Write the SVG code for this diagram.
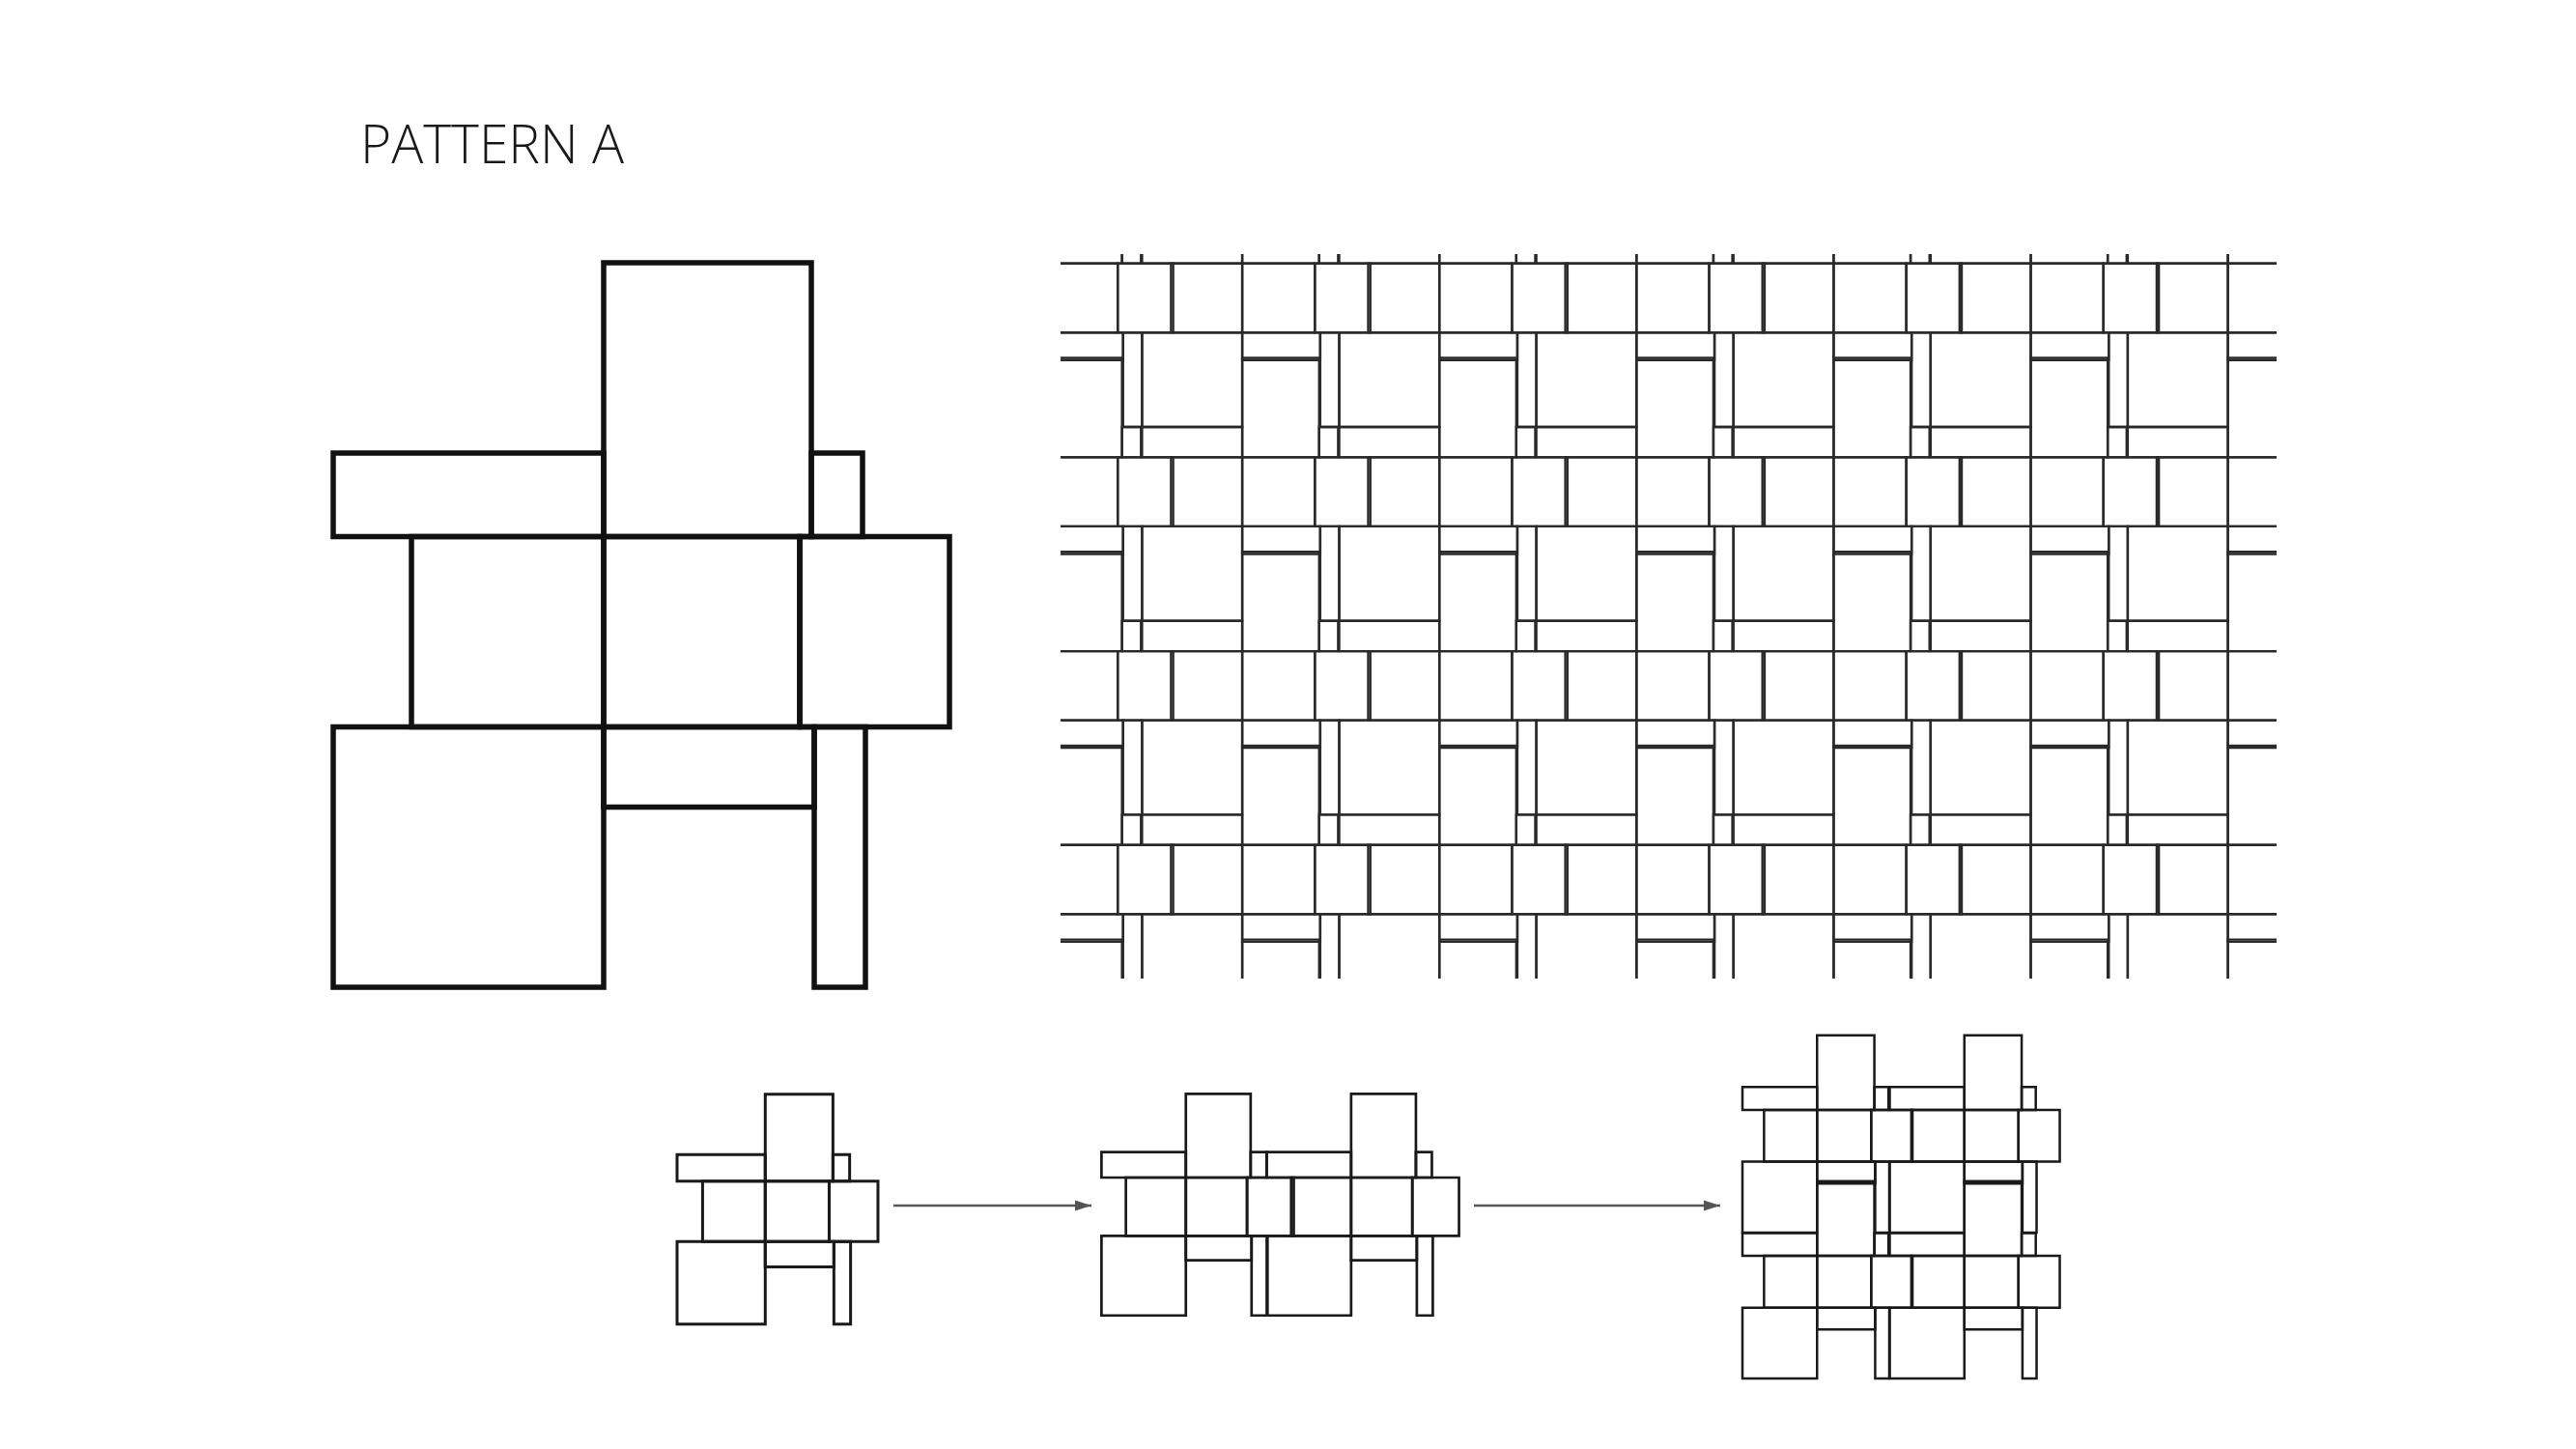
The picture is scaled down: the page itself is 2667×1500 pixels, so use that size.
<svg xmlns="http://www.w3.org/2000/svg" xmlns:xlink="http://www.w3.org/1999/xlink" width="2667" height="1500" viewBox="0 0 2667 1500">
<style>
.title { font-family: "Open Sans", "Liberation Sans", sans-serif; font-weight: 300; font-size: 55px; fill: #1a1a1a; }
.big { stroke: #111; stroke-width: 5.5; }
.grid { stroke: #2a2a2a; stroke-width: 2.4; }
.s1 { stroke: #1a1a1a; stroke-width: 3; }
.s2 { stroke: #1a1a1a; stroke-width: 2.7; }
.s3 { stroke: #1a1a1a; stroke-width: 2.5; }
.arrow { stroke: #555; stroke-width: 2.6; fill: none; }
</style>
<defs>
<g id="motif" fill="none" stroke-linejoin="miter" stroke-linecap="square">
<rect x="280" y="0" width="215" height="283.5" vector-effect="non-scaling-stroke"/>
<rect x="0" y="197" width="280" height="86.5" vector-effect="non-scaling-stroke"/>
<rect x="495" y="197" width="53" height="86.5" vector-effect="non-scaling-stroke"/>
<rect x="81" y="283.5" width="199" height="197.1" vector-effect="non-scaling-stroke"/>
<rect x="280" y="283.5" width="203" height="197.1" vector-effect="non-scaling-stroke"/>
<rect x="483" y="283.5" width="155" height="197.1" vector-effect="non-scaling-stroke"/>
<rect x="0" y="480.6" width="280" height="269.4" vector-effect="non-scaling-stroke"/>
<rect x="280" y="480.6" width="218" height="82.8" vector-effect="non-scaling-stroke"/>
<rect x="498" y="480.6" width="53" height="269.4" vector-effect="non-scaling-stroke"/>
</g>
<g id="motifG" fill="none" stroke-linejoin="miter" stroke-linecap="square">
<rect x="280" y="0" width="215" height="283.5" vector-effect="non-scaling-stroke"/>
<rect x="0" y="197" width="280" height="86.5" vector-effect="non-scaling-stroke"/>
<rect x="495" y="197" width="53" height="86.5" vector-effect="non-scaling-stroke"/>
<rect x="81" y="283.5" width="199" height="197.1" vector-effect="non-scaling-stroke"/>
<rect x="280" y="283.5" width="203" height="197.1" vector-effect="non-scaling-stroke"/>
<rect x="483" y="283.5" width="155" height="197.1" vector-effect="non-scaling-stroke"/>
<rect x="0" y="480.6" width="280" height="269.4" vector-effect="non-scaling-stroke"/>
<rect x="280" y="480.6" width="218" height="78.6" vector-effect="non-scaling-stroke"/>
<rect x="498" y="480.6" width="53" height="269.4" vector-effect="non-scaling-stroke"/>
</g>
<clipPath id="gridclip"><rect x="1098" y="263" width="1259" height="750"/></clipPath>
<marker id="ah" markerUnits="userSpaceOnUse" markerWidth="18" markerHeight="12" refX="17" refY="6" orient="auto">
<path d="M0,0.5 L17,6 L0,11.5 Z" fill="#555"/>
</marker>
</defs>

<g id="title">
<text class="title" x="373" y="169" textLength="273" lengthAdjust="spacingAndGlyphs">PATTERN A</text>
</g>

<g id="motif-large" class="big">
<use xlink:href="#motif" href="#motif" transform="translate(345 272)"/>
</g>

<g id="pattern-grid" class="grid" clip-path="url(#gridclip)">
<g transform="translate(978.3 169.8)">
<use href="#motifG" transform="translate(0 0) scale(0.3704 0.3629)"/>
<use href="#motifG" transform="translate(204.1 0) scale(0.3704 0.3629)"/>
<use href="#motifG" transform="translate(408.2 0) scale(0.3704 0.3629)"/>
<use href="#motifG" transform="translate(612.3 0) scale(0.3704 0.3629)"/>
<use href="#motifG" transform="translate(816.4 0) scale(0.3704 0.3629)"/>
<use href="#motifG" transform="translate(1020.5 0) scale(0.3704 0.3629)"/>
<use href="#motifG" transform="translate(1224.6 0) scale(0.3704 0.3629)"/>
<use href="#motifG" transform="translate(0 200.7) scale(0.3704 0.3629)"/>
<use href="#motifG" transform="translate(204.1 200.7) scale(0.3704 0.3629)"/>
<use href="#motifG" transform="translate(408.2 200.7) scale(0.3704 0.3629)"/>
<use href="#motifG" transform="translate(612.3 200.7) scale(0.3704 0.3629)"/>
<use href="#motifG" transform="translate(816.4 200.7) scale(0.3704 0.3629)"/>
<use href="#motifG" transform="translate(1020.5 200.7) scale(0.3704 0.3629)"/>
<use href="#motifG" transform="translate(1224.6 200.7) scale(0.3704 0.3629)"/>
<use href="#motifG" transform="translate(0 401.4) scale(0.3704 0.3629)"/>
<use href="#motifG" transform="translate(204.1 401.4) scale(0.3704 0.3629)"/>
<use href="#motifG" transform="translate(408.2 401.4) scale(0.3704 0.3629)"/>
<use href="#motifG" transform="translate(612.3 401.4) scale(0.3704 0.3629)"/>
<use href="#motifG" transform="translate(816.4 401.4) scale(0.3704 0.3629)"/>
<use href="#motifG" transform="translate(1020.5 401.4) scale(0.3704 0.3629)"/>
<use href="#motifG" transform="translate(1224.6 401.4) scale(0.3704 0.3629)"/>
<use href="#motifG" transform="translate(0 602.1) scale(0.3704 0.3629)"/>
<use href="#motifG" transform="translate(204.1 602.1) scale(0.3704 0.3629)"/>
<use href="#motifG" transform="translate(408.2 602.1) scale(0.3704 0.3629)"/>
<use href="#motifG" transform="translate(612.3 602.1) scale(0.3704 0.3629)"/>
<use href="#motifG" transform="translate(816.4 602.1) scale(0.3704 0.3629)"/>
<use href="#motifG" transform="translate(1020.5 602.1) scale(0.3704 0.3629)"/>
<use href="#motifG" transform="translate(1224.6 602.1) scale(0.3704 0.3629)"/>
<use href="#motifG" transform="translate(0 802.8) scale(0.3704 0.3629)"/>
<use href="#motifG" transform="translate(204.1 802.8) scale(0.3704 0.3629)"/>
<use href="#motifG" transform="translate(408.2 802.8) scale(0.3704 0.3629)"/>
<use href="#motifG" transform="translate(612.3 802.8) scale(0.3704 0.3629)"/>
<use href="#motifG" transform="translate(816.4 802.8) scale(0.3704 0.3629)"/>
<use href="#motifG" transform="translate(1020.5 802.8) scale(0.3704 0.3629)"/>
<use href="#motifG" transform="translate(1224.6 802.8) scale(0.3704 0.3629)"/>
</g>
</g>

<g id="step-1" class="s1">
<use href="#motif" transform="translate(701 1132.7) scale(0.326 0.3173)"/>
</g>

<g id="step-2" class="s2">
<use href="#motif" transform="translate(1140.4 1132.3) scale(0.312 0.3059)"/>
<use href="#motif" transform="translate(1311.5 1132.3) scale(0.312 0.3059)"/>
</g>

<g id="step-3" class="s3">
<use href="#motif" transform="translate(1804 1071.7) scale(0.2759 0.2724)"/>
<use href="#motif" transform="translate(1956.5 1071.7) scale(0.2759 0.2724)"/>
<use href="#motif" transform="translate(1804 1222.8) scale(0.2759 0.2724)"/>
<use href="#motif" transform="translate(1956.5 1222.8) scale(0.2759 0.2724)"/>
</g>

<g id="connectors">
<line class="arrow" x1="925" y1="1248" x2="1130" y2="1248" marker-end="url(#ah)"/>
<line class="arrow" x1="1526" y1="1248" x2="1781" y2="1248" marker-end="url(#ah)"/>
</g>
</svg>
